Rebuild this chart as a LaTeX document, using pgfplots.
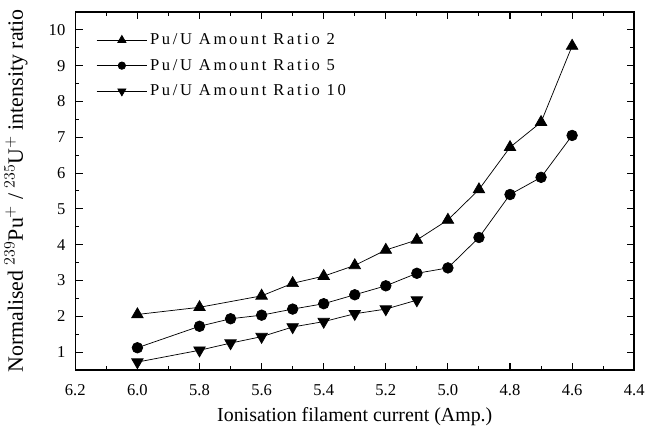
\documentclass[border=0pt]{standalone}
\usepackage{pgfplots}
\pgfplotsset{compat=1.18}
\usepackage{fontspec}
\setmainfont{Liberation Serif}
\newfontfamily\legendfont[LetterSpace=16]{Liberation Serif}

\begin{document}
\begin{tikzpicture}
\begin{axis}[
    scale only axis,
    width=421.5pt, height=270pt,
    x dir=reverse,
    xmin=4.4, xmax=6.2, ymin=0.5, ymax=10.5,
    xtick={4.4,4.6,...,6.21}, ytick={1,2,...,10},
    minor x tick num=1, minor y tick num=1,
    xticklabel style={yshift=-7.5pt, /pgf/number format/fixed,
        /pgf/number format/fixed zerofill, /pgf/number format/precision=1},
    /pgf/number format/assume math mode=true,
    tick align=inside,
    major tick length=5.5pt, minor tick length=3pt,
    tick style={black, line width=0.8pt},
    axis line style={line width=1.1pt},
    ticklabel style={font=\fontsize{12.5}{14}\selectfont},
    xlabel={Ionisation filament current (Amp.)},
    ylabel={Normalised $^{239}$Pu$^{+}$ / $^{235}$U$^{+}$ intensity ratio},
    yticklabel style={xshift=-4pt},
    xlabel style={yshift=-2pt, font=\fontsize{15}{17}\selectfont},
    ylabel style={yshift=9pt, font=\fontsize{16.5}{19}\selectfont},
    legend style={draw=none, fill=none, at={(0.03,0.955)}, anchor=north west,
        font=\legendfont\fontsize{12.5}{14}\selectfont, row sep=5.5pt},
    legend cell align=left,
    legend image code/.code={
        \draw[#1, mark=none] (0pt,0pt) -- (38pt,0pt);
        \draw[#1, only marks, every mark/.append style={scale=0.7}]
            plot coordinates {(19pt,0pt)};
    },
    every axis plot/.append style={black, line width=0.55pt,
        mark options={fill=black, solid}},
]
\addplot[mark=triangle*, mark size=5pt] coordinates {
    (6.0,2.05) (5.8,2.25) (5.6,2.57) (5.5,2.92) (5.4,3.12) (5.3,3.42)
    (5.2,3.85) (5.1,4.13) (5.0,4.69) (4.9,5.54) (4.8,6.72) (4.7,7.42) (4.6,9.55)
};
\addlegendentry{Pu/U Amount Ratio 2}
\addplot[mark=*, mark size=4pt] coordinates {
    (6.0,1.12) (5.8,1.72) (5.7,1.93) (5.6,2.03) (5.5,2.20) (5.4,2.35) (5.3,2.60)
    (5.2,2.85) (5.1,3.20) (5.0,3.35) (4.9,4.20) (4.8,5.40) (4.7,5.88) (4.6,7.05)
};
\addlegendentry{Pu/U Amount Ratio 5}
\addplot[mark=triangle*, mark size=5pt, mark options={rotate=180}] coordinates {
    (6.0,0.72) (5.8,1.05) (5.7,1.25) (5.6,1.43) (5.5,1.70) (5.4,1.85)
    (5.3,2.07) (5.2,2.20) (5.1,2.45)
};
\addlegendentry{Pu/U Amount Ratio 10}
\end{axis}
\path ([yshift=9pt]current axis.north);
\end{tikzpicture}
\end{document}
